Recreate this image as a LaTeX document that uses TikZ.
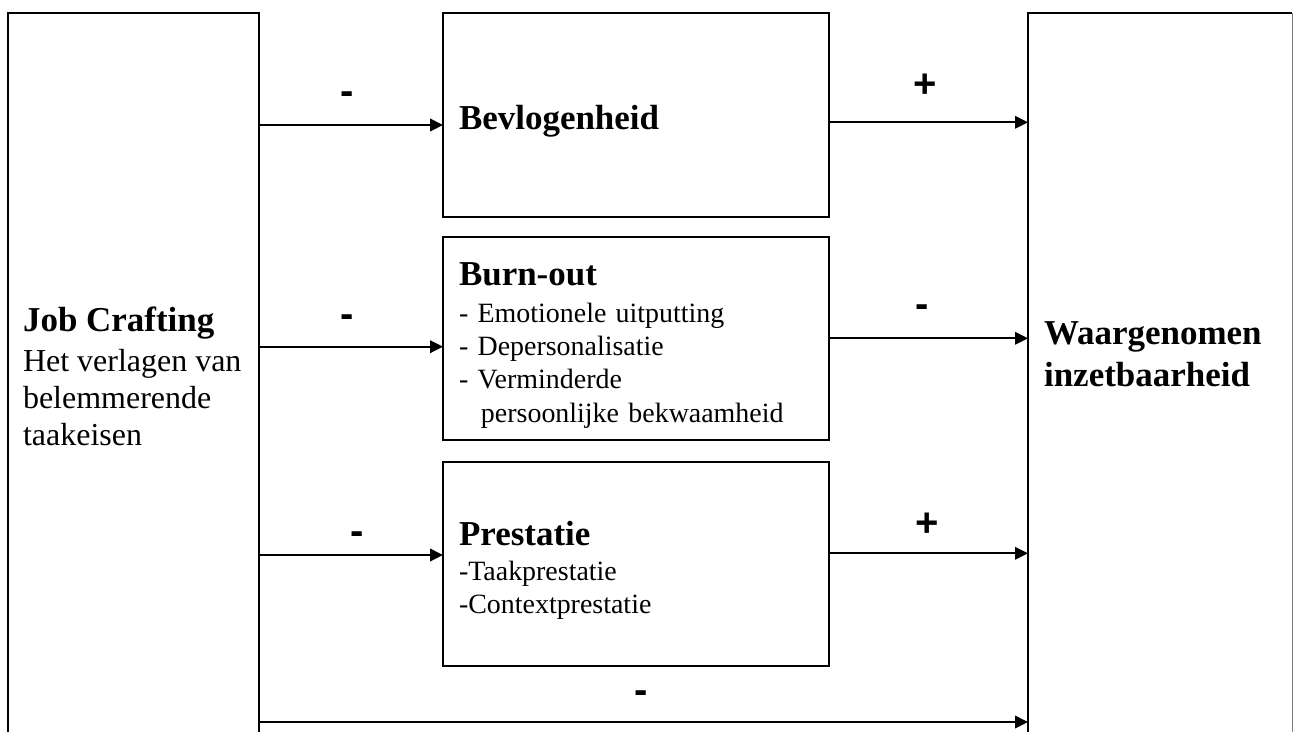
\documentclass[tikz,border=0pt]{standalone}
\usepackage{fontspec}
\setmainfont{Liberation Serif}
\newfontfamily\signfamily{Liberation Sans}
\usetikzlibrary{arrows.meta}
\newcommand{\hdfont}{\fontsize{19.9}{23.7}\selectfont\bfseries}
\newcommand{\bodyfont}{\fontsize{15.9}{19}\selectfont}
\newcommand{\leftfont}{\fontsize{18.2}{20.9}\selectfont}
\newcommand{\signfont}{\signfamily\fontsize{22.8}{27}\selectfont\bfseries}
\newcommand{\topstrut}{\rule{0pt}{0.74cm}}

\begin{document}
\begin{tikzpicture}[x=0.02cm,y=-0.02cm,>={Triangle[length=0.26cm,width=0.25cm]},line width=1.2pt,
 bx/.style={draw,outer sep=0pt,inner sep=0pt,anchor=north west},
 mid/.style={bx,minimum width=7.72cm,inner xsep=0.32cm,text width=7.08cm,align=left,font=\bodyfont},
 sgn/.style={font=\signfont,anchor=base,inner sep=0pt}]
\path[use as bounding box] (0,0) rectangle (1294,731);
\clip (0,0) rectangle (1294,731);
% outer boxes, cut off at the bottom
\node[bx,minimum width=5.02cm,minimum height=15.2cm] (jc) at (8,13) {};
\node[bx,draw=none,minimum width=5.28cm,minimum height=15.2cm] (wi) at (1028,13) {};
\draw (wi.south west) -- (wi.north west) -- (wi.north east);
\draw[gray,line width=0.5pt] (wi.north east) -- (wi.south east);
\node[anchor=north west,inner sep=0pt,align=left,font=\leftfont] (jct) at (22,306) {{\hdfont Job Crafting}\\[0.066cm] Het verlagen van\\ belemmerende\\ taakeisen};
\node[anchor=north west,inner sep=0pt,align=left,font=\hdfont] (wit) at (1043,321) {Waargenomen\\ inzetbaarheid};
% mediators
\node[mid,minimum height=4.08cm] (bev) at (443,13) {\topstrut{\hdfont Bevlogenheid}};
\node[mid,minimum height=4.06cm] (bo) at (443,237) {\topstrut{\hdfont Burn-out}\\[0.06cm] - Emotionele uitputting\\ - Depersonalisatie\\ - Verminderde\\ \hspace*{0.44cm}persoonlijke bekwaamheid};
\node[mid,minimum height=4.08cm] (pr) at (443,462) {\topstrut{\hdfont Prestatie}\\[0.032cm] -Taakprestatie\\ -Contextprestatie};
% paths
\draw[->] (jc.east |- 0,125) -- (bev.west |- 0,125);
\draw[->] (jc.east |- 0,346.7) -- (bo.west |- 0,346.7);
\draw[->] (jc.east |- 0,555) -- (pr.west |- 0,555);
\draw[->] (jc.east |- 0,722) -- (wi.west |- 0,722);
\draw[->] (bev.east |- 0,122.3) -- (wi.west |- 0,122.3);
\draw[->] (bo.east |- 0,338.3) -- (wi.west |- 0,338.3);
\draw[->] (pr.east |- 0,553.3) -- (wi.west |- 0,553.3);
\node[sgn] (s1) at (347,104.8) {-};
\node[sgn] (s2) at (925,97.5) {+};
\node[sgn] (s3) at (347,327.5) {-};
\node[sgn] (s4) at (922,317.5) {-};
\node[sgn] (s5) at (357,544.1) {-};
\node[sgn] (s6) at (927,536) {+};
\node[sgn] (s7) at (641,703.3) {-};
\end{tikzpicture}
\end{document}
